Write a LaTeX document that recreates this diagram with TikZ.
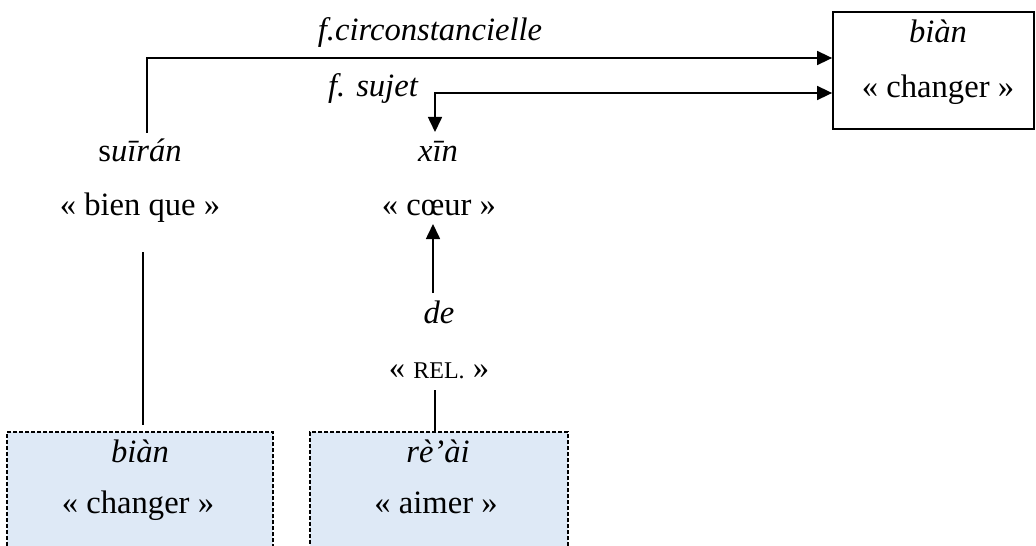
\documentclass[tikz,border=0pt]{standalone}
\usepackage{fontspec}
\setmainfont{Liberation Serif}
\usetikzlibrary{arrows.meta}
\definecolor{boxblue}{RGB}{222,233,246}
\tikzset{
  txt/.style={anchor=base, inner sep=0pt, font=\fontsize{16.3pt}{19pt}\selectfont},
  conn/.style={line width=0.8pt, draw=black},
  arr/.style={conn, -{Triangle[length=7.5pt,width=7pt]}},
  darr/.style={conn, {Triangle[length=7.5pt,width=7pt]}-{Triangle[length=7.5pt,width=7pt]}},
  solidbox/.style={draw=black, line width=0.9pt, inner sep=0pt},
  bluebox/.style={draw=black, fill=boxblue, line width=0.75pt, dash pattern=on 2pt off 1pt, inner sep=0pt},
}
\begin{document}
\begin{tikzpicture}[x=0.5pt,y=-0.5pt]
\clip (0,0) rectangle (1036,545);
\fill[white] (0,0) rectangle (1036,545);
% top right box
\node[solidbox, minimum width=100.5pt, minimum height=58.5pt] (box1) at (933.5,70.5) {};
\node[txt] (b1a) at (938,43) {\itshape biàn};
\node[txt] (b1b) at (938,98) {« changer »};
% bottom boxes
\node[bluebox, minimum width=133pt, minimum height=84pt] (box2) at (140,516) {};
\node[bluebox, minimum width=129pt, minimum height=84pt] (box3) at (439,516) {};
\node[txt] (b2a) at (140,462) {\itshape biàn};
\node[txt] (b2b) at (138,513) {« changer »};
\node[txt] (b3a) at (438,462) {\itshape rè’ài};
\node[txt] (b3b) at (436,513) {« aimer »};
% labels
\node[txt] (circ) at (430,41) {\itshape f.circonstancielle};
\node[txt] (suj) at (373,97) {\itshape f. sujet};
% words
\node[txt] (sui) at (140,162) {s\textit{uīrán}};
\node[txt] (suig) at (140,215) {« bien que »};
\node[txt] (xin) at (438,162) {\itshape xīn};
\node[txt] (xing) at (439,215) {« cœur »};
\node[txt] (de) at (439,323) {\itshape de};
\node[txt] (deg) at (439,378) {« {\fontsize{12pt}{14pt}\selectfont REL.} »};
% coordinates
\coordinate (c1) at (147,133);
\coordinate (y1) at (0,58);
\coordinate (c2) at (435,132);
\coordinate (y2) at (0,93);
\coordinate (l1a) at (143,252);
\coordinate (l1b) at (143,425);
\coordinate (a3a) at (433,293);
\coordinate (a3b) at (433,224);
\coordinate (l4a) at (435,390);
% connectors
\draw[arr] (c1) |- (box1.west |- y1);
\draw[darr] (c2) |- (box1.west |- y2);
\draw[conn] (l1a) -- (l1b);
\draw[arr] (a3a) -- (a3b);
\draw[conn] (l4a) -- (l4a |- box3.north);
\end{tikzpicture}
\end{document}
